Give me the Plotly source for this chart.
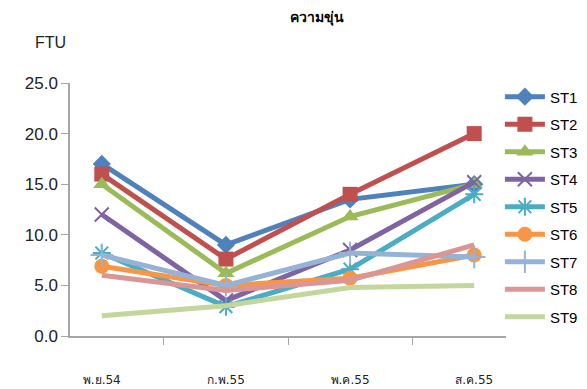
import plotly.graph_objects as go

# Sampling periods
periods = ["พ.ย.54", "ก.พ.55", "พ.ค.55", "ส.ค.55"]

# Turbidity (FTU) per station
st1 = [17.0, 9.0, 13.5, 15.0]
st2 = [16.0, 7.6, 14.0, 20.0]
st3 = [15.0, 6.2, 11.8, 15.0]
st4 = [12.0, 3.5, 8.5, 15.2]
st5 = [8.2, 2.9, 6.6, 14.0]
st6 = [6.9, 5.0, 5.7, 8.0]
st7 = [8.0, 5.0, 8.2, 7.8]
st8 = [6.0, 4.5, 5.5, 9.0]
st9 = [2.0, 3.0, 4.8, 5.0]

series = [
    ("ST1", st1, "#4F81BD", dict(symbol="diamond", size=14)),
    ("ST2", st2, "#C0504D", dict(symbol="square", size=15)),
    ("ST3", st3, "#9BBB59", dict(symbol="triangle-up", size=15)),
    ("ST4", st4, "#8064A2", dict(symbol="x-thin-open", size=14,
                                 line=dict(width=2, color="#B3A2C7"))),
    ("ST5", st5, "#4BACC6", dict(symbol="asterisk-open", size=15,
                                 line=dict(width=2, color="#93CDDD"))),
    ("ST6", st6, "#F79646", dict(symbol="circle", size=15)),
    ("ST7", st7, "#95B3D7", dict(symbol="cross-thin-open", size=16,
                                 line=dict(width=2, color="#7F9FD0"))),
    ("ST8", st8, "#D99694", None),
    ("ST9", st9, "#C3D69B", None),
]

fig = go.Figure()
for name, vals, color, marker in series:
    if marker is None:
        fig.add_trace(go.Scatter(
            x=periods, y=vals, name=name, mode="lines",
            line=dict(color=color, width=5), legendgroup=name))
    else:
        m = dict(marker)
        m.setdefault("color", color)
        fig.add_trace(go.Scatter(
            x=periods, y=vals, name=name, mode="lines+markers",
            line=dict(color=color, width=5), marker=m, legendgroup=name))

fig.update_layout(
    width=587, height=389,
    margin=dict(l=70, r=81, t=83, b=53, autoexpand=False),
    paper_bgcolor="white", plot_bgcolor="white",
    font=dict(family="Liberation Sans Narrow, Liberation Sans, sans-serif",
              size=16, color="#222222"),
    title=dict(text="<b>ความขุ่น</b>", x=0.54, xanchor="center",
               y=0.955, yanchor="middle", font=dict(size=14, color="black")),
    showlegend=True,
    legend=dict(x=0.986, xanchor="left", y=1.01, yanchor="top",
                tracegroupgap=5, font=dict(size=15, color="black"),
                itemwidth=40, bgcolor="rgba(0,0,0,0)", maxheight=380),
    annotations=[dict(text="FTU", xref="paper", yref="paper",
                      x=-0.045, y=1.16, xanchor="center", yanchor="middle",
                      showarrow=False, font=dict(size=16, color="#222222"))],
)

fig.update_xaxes(
    type="category", tickson="boundaries", ticks="outside", ticklen=7,
    tickcolor="#A6A6A6", showline=True, linecolor="#A6A6A6", linewidth=1.5,
    showgrid=False, ticklabelstandoff=32, automargin=False,
    tickfont=dict(size=12, family="DejaVu Sans, sans-serif", color="#222222"),
)
fig.update_yaxes(
    range=[0, 25], dtick=5, tickformat=".1f", ticks="outside", ticklen=7,
    tickcolor="#A6A6A6", showline=True, linecolor="#A6A6A6", linewidth=1.5,
    showgrid=False, zeroline=False, automargin=False,
    tickfont=dict(size=17),
)

fig.write_html("out.html")
